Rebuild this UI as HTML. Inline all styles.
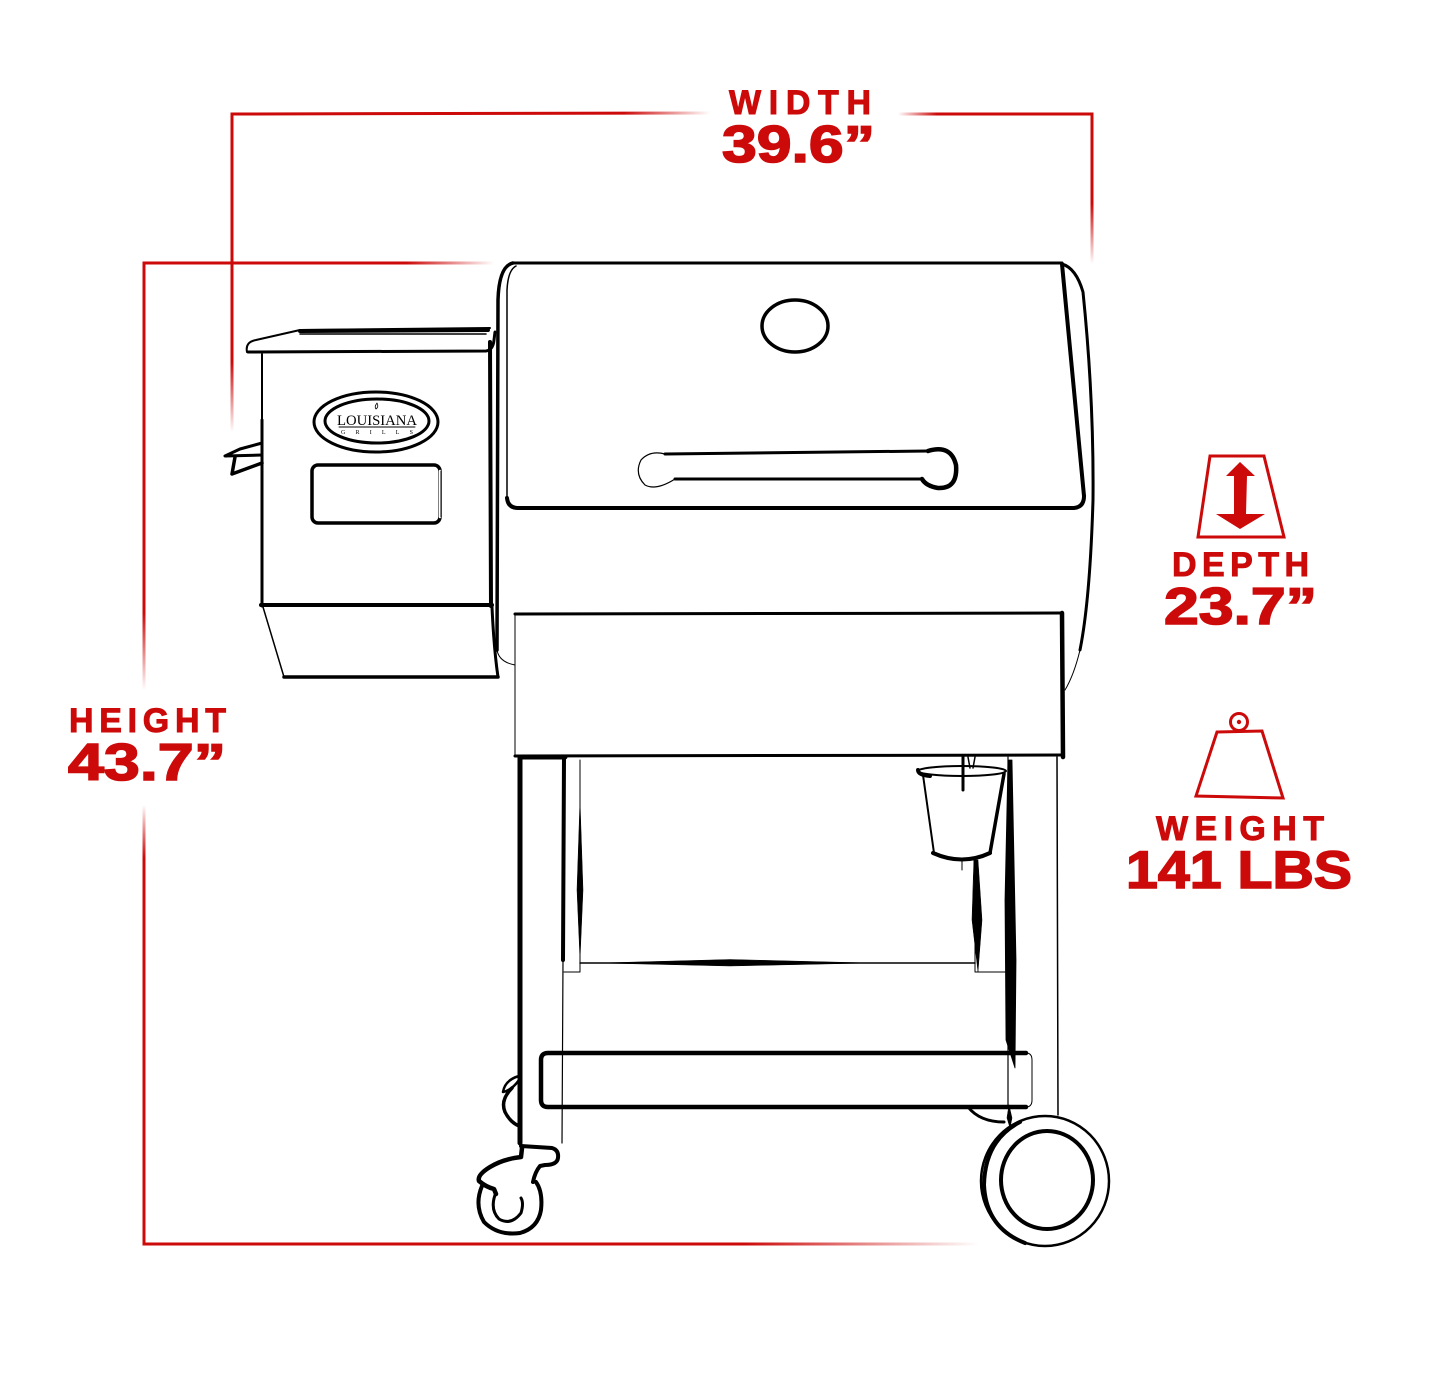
<!DOCTYPE html>
<html><head><meta charset="utf-8"><style>
html,body{margin:0;padding:0;background:#fff;}
svg{display:block;}
</style></head><body>
<svg width="1443" height="1382" viewBox="0 0 1443 1382" xmlns="http://www.w3.org/2000/svg">
<defs>
<linearGradient id="g1" gradientUnits="userSpaceOnUse" x1="232" y1="0" x2="710" y2="0"><stop offset="0.82" stop-color="#cc0a0a"/><stop offset="1" stop-color="#cc0a0a" stop-opacity="0"/></linearGradient>
<linearGradient id="g2" gradientUnits="userSpaceOnUse" x1="898" y1="0" x2="1092" y2="0"><stop offset="0" stop-color="#cc0a0a" stop-opacity="0"/><stop offset="0.2" stop-color="#cc0a0a"/></linearGradient>
<linearGradient id="g3" gradientUnits="userSpaceOnUse" x1="0" y1="114" x2="0" y2="264"><stop offset="0.6" stop-color="#cc0a0a"/><stop offset="1" stop-color="#cc0a0a" stop-opacity="0"/></linearGradient>
<linearGradient id="g4" gradientUnits="userSpaceOnUse" x1="0" y1="114" x2="0" y2="432"><stop offset="0.78" stop-color="#cc0a0a"/><stop offset="1" stop-color="#cc0a0a" stop-opacity="0"/></linearGradient>
<linearGradient id="g5" gradientUnits="userSpaceOnUse" x1="144" y1="0" x2="494" y2="0"><stop offset="0.75" stop-color="#cc0a0a"/><stop offset="1" stop-color="#cc0a0a" stop-opacity="0"/></linearGradient>
<linearGradient id="g6" gradientUnits="userSpaceOnUse" x1="0" y1="263" x2="0" y2="690"><stop offset="0.82" stop-color="#cc0a0a"/><stop offset="1" stop-color="#cc0a0a" stop-opacity="0"/></linearGradient>
<linearGradient id="g7" gradientUnits="userSpaceOnUse" x1="0" y1="805" x2="0" y2="1244"><stop offset="0" stop-color="#cc0a0a" stop-opacity="0"/><stop offset="0.12" stop-color="#cc0a0a"/></linearGradient>
<linearGradient id="g8" gradientUnits="userSpaceOnUse" x1="144" y1="0" x2="978" y2="0"><stop offset="0.72" stop-color="#cc0a0a"/><stop offset="1" stop-color="#cc0a0a" stop-opacity="0"/></linearGradient>
</defs>

<!-- red dimension lines -->
<g fill="none" stroke-width="3" stroke-linecap="square">
<path d="M232,114 L708,113" stroke="url(#g1)"/>
<path d="M900,114 L1092,114" stroke="url(#g2)"/>
<path d="M1092,114 L1092,262" stroke="url(#g3)"/>
<path d="M232,114 L232,430" stroke="url(#g4)"/>
<path d="M144,263 L492,263" stroke="url(#g5)"/>
<path d="M144,263 L144,690" stroke="url(#g6)"/>
<path d="M144,805 L144,1244" stroke="url(#g7)"/>
<path d="M144,1244 L976,1244" stroke="url(#g8)"/>
</g>

<!-- red labels -->
<g fill="#cc0a0a" stroke="#cc0a0a" font-family="'Liberation Sans', Arial, sans-serif" font-weight="700">
<text x="729" y="114" font-size="34" stroke-width="0.9" textLength="142" lengthAdjust="spacing">WIDTH</text>
<text x="722" y="162" font-size="52" stroke-width="1.6" textLength="153" lengthAdjust="spacingAndGlyphs">39.6”</text>
<text x="69" y="732" font-size="34" stroke-width="0.9" textLength="157" lengthAdjust="spacing">HEIGHT</text>
<text x="68" y="780" font-size="52" stroke-width="1.6" textLength="158" lengthAdjust="spacingAndGlyphs">43.7”</text>
<text x="1172" y="576" font-size="34" stroke-width="0.9" textLength="137" lengthAdjust="spacing">DEPTH</text>
<text x="1164" y="624" font-size="52" stroke-width="1.6" textLength="153" lengthAdjust="spacingAndGlyphs">23.7”</text>
<text x="1156" y="840" font-size="34" stroke-width="0.9" textLength="168" lengthAdjust="spacing">WEIGHT</text>
<text x="1126" y="888" font-size="53" stroke-width="1.6" textLength="226" lengthAdjust="spacingAndGlyphs">141 LBS</text>
</g>

<!-- depth icon -->
<g fill="none" stroke="#cc0a0a" stroke-width="3" stroke-linejoin="miter">
<polygon points="1210,456 1264,456 1284,537 1198,537"/>
</g>
<path d="M1240,462 L1255,476 L1247,476 L1246,514 L1265,514 L1240,529 L1216,514 L1234,514 L1234,476 L1226,476 Z" fill="#cc0a0a"/>

<!-- weight icon -->
<circle cx="1239" cy="722" r="8.5" fill="none" stroke="#cc0a0a" stroke-width="3"/>
<circle cx="1239" cy="722" r="2.2" fill="#cc0a0a"/>
<polygon points="1217,732 1262,731 1283,798 1196,796" fill="none" stroke="#cc0a0a" stroke-width="3"/>

<!-- GRILL drawing -->
<g fill="none" stroke="#000" stroke-linecap="round" stroke-linejoin="round">

<!-- hopper lid -->
<path d="M247,352 Q245,342 256,340 L300,330 L490,328" stroke-width="2"/>
<path d="M300,331 L488,330" stroke-width="4"/>
<path d="M300,334 L486,334" stroke-width="1.5"/>
<path d="M248,352 L486,351 Q493,350 494,340 L495,332" stroke-width="3"/>
<!-- hopper body -->
<path d="M262,354 L262,606" stroke-width="2"/>
<path d="M262,420 L262,606" stroke-width="3"/>
<path d="M490,342 L491,606" stroke-width="4"/>
<path d="M261,605 L492,605" stroke-width="4"/>
<!-- hopper lower -->
<path d="M263,607 L284,677" stroke-width="1.5"/>
<path d="M284,677 L498,677" stroke-width="3.5"/>
<path d="M492,607 Q494,650 498,677" stroke-width="3"/>
<!-- side handle -->
<path d="M262,443 L240,449 L225,456 L262,455" stroke-width="3"/>
<path d="M235,457 L232,474 L262,463" stroke-width="3.5"/>

<!-- logo -->
<ellipse cx="376" cy="422" rx="62" ry="30" stroke-width="3"/>
<ellipse cx="377" cy="421" rx="52" ry="22" stroke-width="3"/>
<path d="M339,427 L415,427" stroke-width="0.9"/>
<path d="M377,403 Q374,407 376,409 Q379,407 377,403 Z" stroke-width="0.8"/>
<!-- control window -->
<rect x="312" y="465" width="128" height="58" rx="6" stroke-width="3.5"/>
<path d="M440,471 L440,517" stroke="#fff" stroke-width="2.5"/>
<path d="M441,471 L441,517" stroke-width="1"/>

<!-- barrel outer -->
<path d="M513,263 Q499,266 498,300 L497,650" stroke-width="3.5"/>
<path d="M497,650 Q499,662 515,665" stroke-width="1"/>
<path d="M1062,264 Q1076,268 1083,292 Q1094,400 1093,500 Q1090,600 1080,650" stroke-width="3"/>
<path d="M1080,650 Q1074,675 1065,690" stroke-width="1"/>

<!-- lid panel -->
<path d="M513,263 L1062,263" stroke-width="3"/>
<path d="M516,266 Q508,270 507,290 L507,498" stroke-width="1.5"/>
<path d="M507,498 Q508,508 518,508 L1074,508 Q1084,507 1084,496" stroke-width="4"/>
<path d="M1062,264 L1084,496" stroke-width="4"/>

<!-- vent -->
<ellipse cx="795" cy="326" rx="33" ry="26" stroke-width="3.5"/>

<!-- handle -->
<path d="M665,454 L928,451" stroke-width="3"/>
<path d="M675,479 L922,479" stroke-width="3"/>
<path d="M665,454 Q650,450 641,460 Q634,474 645,485 Q656,491 675,479" stroke-width="1.2"/>
<path d="M928,451 Q951,444 956,465 Q958,489 938,488 Q926,486 922,479" stroke-width="4.5"/>

<!-- front box -->
<path d="M515,614 L1062,613" stroke-width="3"/>
<path d="M1062,613 L1063,757" stroke-width="4.5"/>
<path d="M515,756 L1063,755" stroke-width="3"/>
<path d="M515,614 L515,756" stroke-width="1"/>

<!-- left leg -->
<path d="M520,1143 L520,757 L565,757" stroke-width="5"/>
<path d="M564,757 L563,960" stroke-width="4"/>
<path d="M563,960 L562,1143" stroke-width="1.2"/>
<!-- back-left leg -->
<path d="M580,760 L580,972 L564,972" stroke-width="1"/>
<polygon points="580,800 583,890 580,960 577,890" fill="#000" stroke-width="0.5"/>
<!-- back crossbar -->
<path d="M580,963 L975,963" stroke-width="1.5"/>
<polygon points="600,963 730,959.5 870,963 730,966" fill="#000" stroke-width="0.5"/>

<!-- right legs -->
<path d="M1008,757 L1008,1105" stroke-width="1.2"/>
<polygon points="1008,760 1012,760 1016,960 1015,1068 1006,1040 1005,900" fill="#000" stroke-width="0.8"/>
<path d="M1057,757 L1058,1115" stroke-width="1.5"/>
<path d="M975,860 L975,972 L1006,972" stroke-width="1"/>
<polygon points="974,860 978,860 982,920 978,972 972,920" fill="#000" stroke-width="0.5"/>

<!-- bucket -->
<path d="M963,757 L963,790" stroke-width="3"/>
<path d="M968,757 L970,768 M975,757 L973,768" stroke-width="1.5"/>
<ellipse cx="962" cy="771" rx="44" ry="5" stroke-width="2"/>
<path d="M918,770 Q918,775 930,776" stroke-width="4"/>
<path d="M923,775 L934,853" stroke-width="2"/>
<path d="M1004,774 L990,853" stroke-width="3.5"/>
<path d="M933,853 Q962,866 990,853" stroke-width="4"/>
<path d="M962,860 L962,870" stroke-width="1"/>

<!-- lower shelf -->
<path d="M1026,1053 L548,1053 Q541,1053 541,1060 L541,1100 Q541,1107 548,1107 L1026,1107" stroke-width="4.5"/>
<path d="M1026,1053 Q1032,1053 1032,1060 L1032,1100 Q1032,1107 1026,1107" stroke-width="1"/>

<!-- left caster brace -->
<path d="M519,1076 Q505,1080 503,1092 Q512,1090 519,1080" stroke-width="2.5"/>
<path d="M512,1088 Q500,1100 505,1112 Q510,1122 519,1126" stroke-width="3.5"/>

<!-- left caster -->
<path d="M521,1146 L552,1148 Q559,1150 558,1158 Q557,1165 545,1165 L540,1166 Q535,1172 533,1182" stroke-width="4"/>
<path d="M522,1148 L521,1157 Q503,1159 490,1167 Q477,1175 479,1181 Q486,1187 494,1189 L496,1194" stroke-width="4.5"/>
<path d="M482,1186 Q474,1205 484,1222 Q498,1236 520,1233 Q538,1228 541,1210 Q543,1192 536,1182" stroke-width="4"/>
<path d="M495,1195 Q490,1210 499,1219 Q511,1226 521,1213 Q524,1203 521,1198" stroke-width="3"/>

<!-- right caster brace -->
<path d="M968,1107 Q980,1122 1004,1122" stroke-width="3"/>
<polygon points="1009,1105 1012,1118 1010,1128 1007,1118" fill="#000" stroke-width="0.5"/>

<!-- right wheel -->
<ellipse cx="1045" cy="1181" rx="64" ry="65" stroke-width="2.5"/>
<path d="M1020,1122 Q985,1140 984,1185 Q986,1228 1025,1243" stroke-width="4"/>
<ellipse cx="1047" cy="1180" rx="46" ry="49" stroke-width="4"/>
</g>

<!-- logo text -->
<g fill="#000" font-family="'Liberation Serif', 'Times New Roman', serif" text-anchor="middle">
<text x="377" y="425" font-size="15" textLength="80" lengthAdjust="spacingAndGlyphs">LOUISIANA</text>
<text x="377" y="434" font-size="6" textLength="72" lengthAdjust="spacing">GRILLS</text>
</g>
</svg>
</body></html>
